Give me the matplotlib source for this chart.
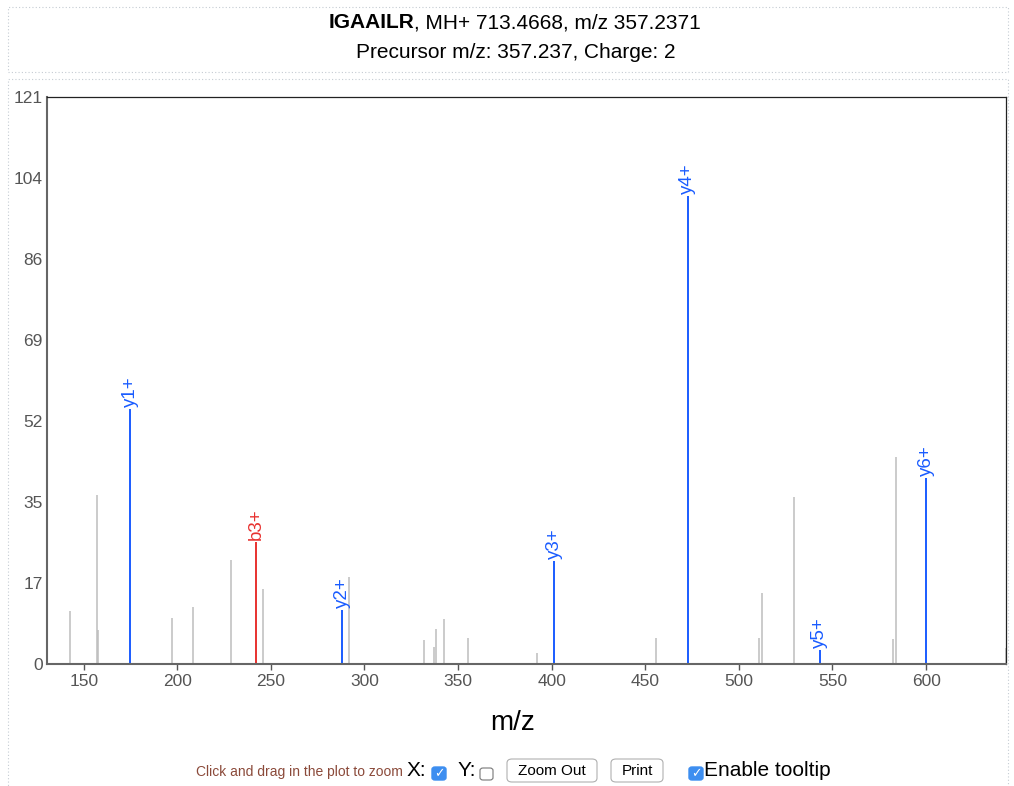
import numpy as np
import matplotlib.pyplot as plt
from matplotlib.patches import Rectangle, FancyBboxPatch

plt.rcParams['font.family'] = ['Liberation Sans', 'DejaVu Sans']

# unannotated peaks (grey)
peak_mz = [142.7, 157.0, 157.9, 197.1, 208.3, 228.9, 246.0, 291.8, 331.7, 337.4,
           338.1, 342.5, 355.2, 392.2, 455.6, 511.0, 512.4, 529.6, 582.2, 583.8, 642.5]
peak_int = [11.3, 36.1, 7.3, 9.9, 12.1, 22.2, 16.0, 18.6, 5.1, 3.6,
            7.4, 9.5, 5.5, 2.4, 5.5, 5.5, 15.1, 35.7, 5.3, 44.1, 3.4]

# matched fragment ions
ion_labels = ['y1+', 'b3+', 'y2+', 'y3+', 'y4+', 'y5+', 'y6+']
ion_mz = [174.9, 242.1, 288.2, 401.3, 472.6, 543.1, 600.1]
ion_int = [54.4, 26.0, 11.5, 22.0, 99.8, 3.0, 39.6]

ymax = 121
xmin, xmax = 130.4, 642.7

W, H = 1014, 786
fig = plt.figure(figsize=(W / 100, H / 100), dpi=100)


def fx(px):
    return px / W


def fy(py):
    return 1 - py / H


ax = fig.add_axes([fx(47), fy(664), fx(1006) - fx(47), fy(97) - fy(664)])

ax.vlines(peak_mz, 0, peak_int, color='#bdbdbd', lw=1.1, clip_on=False)
for lab, mz, it in zip(ion_labels, ion_mz, ion_int):
    col = '#e8312f' if lab.startswith('b') else '#1a5cff'
    ax.vlines(mz, 0, it, color=col, lw=1.4)
    ax.annotate(lab, (mz, it), xytext=(0, 1.5), textcoords='offset points',
                rotation=90, ha='center', va='bottom', color=col, fontsize=13.5)

ax.set_xlim(xmin, xmax)
ax.set_ylim(0, ymax)
yt = np.linspace(0, ymax, 8)
ax.set_yticks(yt)
ax.set_yticklabels([str(int(round(v))) for v in yt])
ax.set_xticks(np.arange(150, 601, 50))
ax.tick_params(colors='#555555', labelsize=12.5, width=1, labelcolor='#555555')
ax.tick_params(axis='y', length=0, pad=3)
ax.tick_params(axis='x', length=4, pad=3)
for s in ['left', 'bottom']:
    ax.spines[s].set_color('#666666')
    ax.spines[s].set_linewidth(1.5)
for s in ['top', 'right']:
    ax.spines[s].set_color('#222222')
    ax.spines[s].set_linewidth(0.9)
ax.set_xlabel('m/z', fontsize=20)
ax.xaxis.set_label_coords(0.485, -0.081)

# header text: bold peptide + normal rest, centred together
t1 = fig.text(0, fy(23), 'IGAAILR', fontsize=15, fontweight='bold', va='center')
t2 = fig.text(0, fy(23), ', MH+ 713.4668, m/z 357.2371', fontsize=15, va='center')
fig.canvas.draw()
r = fig.canvas.get_renderer()
w1 = t1.get_window_extent(r).width
w2 = t2.get_window_extent(r).width
x0 = 515 - (w1 + w2) / 2
t1.set_x(fx(x0))
t2.set_x(fx(x0 + w1))
fig.text(fx(516), fy(53), 'Precursor m/z: 357.237, Charge: 2', fontsize=15,
         ha='center', va='center')

# dotted container borders
for (x, y, w, h) in [(8, 7, 1000, 65), (8, 79, 1000, 720)]:
    fig.patches.append(Rectangle((fx(x), fy(y + h)), w / W, h / H, transform=fig.transFigure,
                                 fill=False, ls=(0, (1, 2)), lw=0.8, ec='#c5ccd3'))

# bottom controls
fig.text(fx(196), fy(772), 'Click and drag in the plot to zoom', fontsize=10,
         color='#8b4a3a', va='center')
fig.text(fx(407), fy(771), 'X:', fontsize=15, va='center')
fig.text(fx(458), fy(771), 'Y:', fontsize=15, va='center')


def checkbox(x, checked):
    if checked:
        fig.patches.append(FancyBboxPatch((fx(x), fy(780)), 14 / W, 13 / H,
                                          boxstyle='round,pad=0,rounding_size=0.003',
                                          transform=fig.transFigure, fc='#3d8ef0', ec='#3d8ef0'))
        fig.text(fx(x + 7), fy(773.5), '\u2713', color='white', fontsize=9,
                 ha='center', va='center', family='DejaVu Sans')
    else:
        fig.patches.append(FancyBboxPatch((fx(x), fy(780)), 13 / W, 12 / H,
                                          boxstyle='round,pad=0,rounding_size=0.003',
                                          transform=fig.transFigure, fc='white', ec='#777777',
                                          lw=0.8))


checkbox(432, True)
checkbox(480, False)
checkbox(689, True)


def button(x, w, label):
    fig.patches.append(FancyBboxPatch((fx(x), fy(782)), w / W, 23 / H,
                                      boxstyle='round,pad=0,rounding_size=0.005',
                                      transform=fig.transFigure, fc='white', ec='#b0b0b0', lw=0.8))
    fig.text(fx(x + w / 2), fy(771), label, fontsize=11, ha='center', va='center')


button(507, 90, 'Zoom Out')
button(611, 52, 'Print')
fig.text(fx(704), fy(770), 'Enable tooltip', fontsize=15, va='center')

fig.savefig('out.png', dpi=100)
